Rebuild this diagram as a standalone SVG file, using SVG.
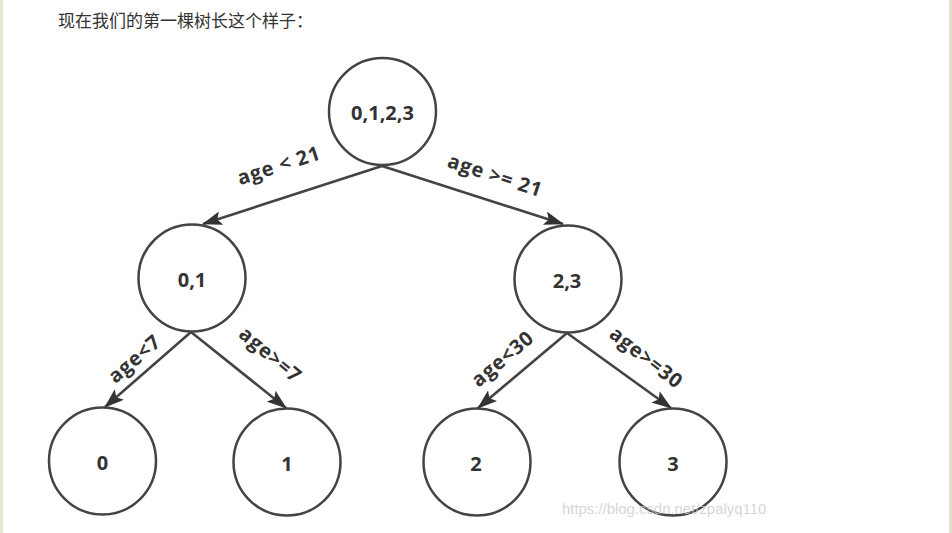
<svg xmlns="http://www.w3.org/2000/svg" width="952" height="533" viewBox="0 0 952 533">
<defs>
<marker id="arr" viewBox="0 0 20 14" refX="19" refY="7" markerWidth="20" markerHeight="14" markerUnits="userSpaceOnUse" orient="auto">
<path d="M0,0 L20,7 L0,14 L4,7 Z" fill="#333"/>
</marker>
</defs>
<style>
.node circle{fill:#fff;stroke:#444;stroke-width:2.5}
.node text{font-family:"Open Sans","Noto Sans","Liberation Sans",sans-serif;font-weight:bold;font-size:20px;fill:#333;text-anchor:middle;dominant-baseline:central}
.edge{stroke:#444;stroke-width:2.6;fill:none;marker-end:url(#arr)}
.lbl{font-family:"Open Sans","Noto Sans","Liberation Sans",sans-serif;font-weight:bold;font-size:20px;letter-spacing:0.8px;fill:#333;text-anchor:middle}
</style>
<rect width="952" height="533" fill="#fff"/>
<rect x="0" y="0" width="3" height="533" fill="#e6e8d6"/>
<rect x="949" y="0" width="3" height="533" fill="#dfe0cc"/>
<text x="58" y="27" font-family="'Noto Sans CJK SC','Liberation Sans',sans-serif" font-size="17" fill="#333">现在我们的第一棵树长这个样子：</text>
<g id="connectors">
<line class="edge" x1="382" y1="166" x2="203" y2="224"/>
<line class="edge" x1="382" y1="166" x2="563" y2="224"/>
<line class="edge" x1="191" y1="332" x2="105" y2="407"/>
<line class="edge" x1="191" y1="332" x2="286" y2="408"/>
<line class="edge" x1="567" y1="333" x2="478" y2="408"/>
<line class="edge" x1="567" y1="333" x2="671" y2="408"/>
<text class="lbl" transform="translate(281,172) rotate(-18)">age &lt; 21</text>
<text class="lbl" transform="translate(493,182) rotate(18)">age &gt;= 21</text>
<text class="lbl" transform="translate(139,364) rotate(-41)">age&lt;7</text>
<text class="lbl" transform="translate(266,360) rotate(40)">age&gt;=7</text>
<text class="lbl" transform="translate(507,364) rotate(-40)">age&lt;30</text>
<text class="lbl" transform="translate(642,363) rotate(38)">age&gt;=30</text>
</g>
<g id="n0123" class="node"><circle cx="382.5" cy="111.5" r="53.5"/><text x="382.5" y="112">0,1,2,3</text></g>
<g id="n01" class="node"><circle cx="192" cy="278" r="53.5"/><text x="192" y="279">0,1</text></g>
<g id="n23" class="node"><circle cx="568" cy="279" r="53.5"/><text x="567" y="280">2,3</text></g>
<g id="n0" class="node"><circle cx="102.5" cy="461" r="53.5"/><text x="102.5" y="462">0</text></g>
<g id="n1" class="node"><circle cx="287" cy="462" r="53.5"/><text x="287" y="463">1</text></g>
<g id="n2" class="node"><circle cx="477" cy="462" r="53.5"/><text x="476" y="463">2</text></g>
<g id="n3" class="node"><circle cx="673" cy="462" r="53.5"/><text x="673" y="463">3</text></g>
<text x="562" y="514" font-family="'Liberation Sans',sans-serif" font-size="14.9" fill="#ccc" fill-opacity="0.8">https://blog.csdn.net/zpalyq110</text>
</svg>
